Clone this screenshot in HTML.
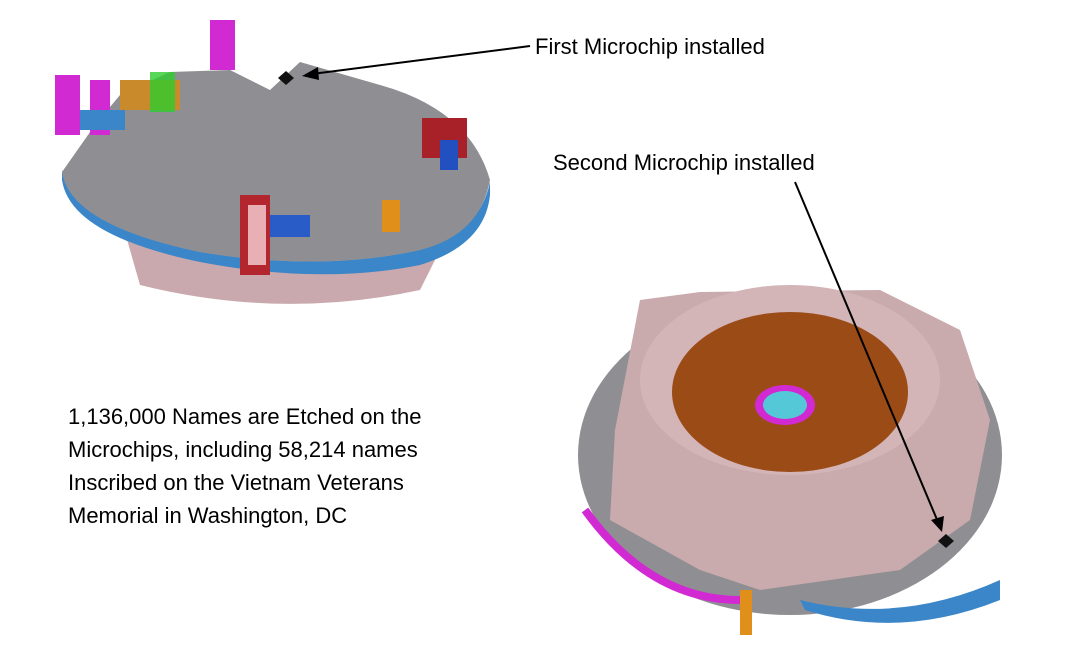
<!DOCTYPE html>
<html><head><meta charset="utf-8"><style>
body{margin:0;background:#fff;width:1072px;height:650px;overflow:hidden;font-family:"Liberation Sans",sans-serif}
svg{position:absolute;left:0;top:0}
</style></head><body>
<svg width="1072" height="650" viewBox="0 0 1072 650">
<!-- top-left disc -->
<path d="M120 215 L140 285 Q280 320 420 290 L445 240 Z" fill="#c9a9ad"/>
<path d="M62 180 Q70 235 200 262 Q320 285 420 265 Q485 245 490 195 L490 182 Q480 232 420 250 Q320 272 200 252 Q70 225 62 170 Z" fill="#3a86c8"/>
<path d="M62 172 L95 125 L120 95 L170 72 L230 70 L270 90 L300 62 L380 85 Q470 110 490 180 Q480 235 420 250 Q320 272 200 252 Q70 225 62 172 Z" fill="#8f8f93"/>
<rect x="240" y="195" width="30" height="80" fill="#b3262e"/>
<rect x="248" y="205" width="18" height="60" fill="#e8b0b4"/>
<rect x="270" y="215" width="40" height="22" fill="#2a5cc8"/>
<rect x="422" y="118" width="45" height="40" fill="#a82028"/>
<rect x="440" y="140" width="18" height="30" fill="#2350c0"/>
<rect x="382" y="200" width="18" height="32" fill="#e0901a"/>
<rect x="120" y="80" width="60" height="30" fill="#c88a2a"/>
<rect x="150" y="72" width="25" height="40" fill="#2ecc2e" opacity="0.8"/>
<rect x="55" y="75" width="25" height="60" fill="#d22ad2"/>
<rect x="90" y="80" width="20" height="55" fill="#d22ad2"/>
<rect x="210" y="20" width="25" height="50" fill="#d22ad2"/>
<rect x="80" y="110" width="45" height="20" fill="#3a86c8"/>
<polygon points="286,71 294,78 286,85 278,78" fill="#111"/>
<!-- bottom-right disc -->
<ellipse cx="790" cy="455" rx="212" ry="160" fill="#8f8f93"/>
<path d="M800 600 Q900 625 1000 580 L1000 600 Q900 640 805 610 Z" fill="#3a86c8"/>
<path d="M640 300 L700 292 L880 290 L960 330 L990 420 L970 520 L900 570 L760 590 L700 570 L610 520 L615 430 Z" fill="#c9aaad"/>
<ellipse cx="790" cy="380" rx="150" ry="95" fill="#d3b4b7"/>
<ellipse cx="790" cy="392" rx="118" ry="80" fill="#9b4b16"/>
<ellipse cx="785" cy="405" rx="30" ry="20" fill="#d22ad2"/>
<ellipse cx="785" cy="405" rx="22" ry="14" fill="#55c8d8"/>
<path d="M585 510 Q650 600 740 600" stroke="#d22ad2" stroke-width="8" fill="none"/>
<rect x="740" y="590" width="12" height="45" fill="#e0901a"/>
<polygon points="946,534 954,541 946,548 938,541" fill="#111"/>
<!-- arrows -->
<line x1="530" y1="46" x2="312" y2="74" stroke="#000" stroke-width="2"/>
<polygon points="302,76 318,67 319,80" fill="#000"/>
<line x1="795" y1="182" x2="938" y2="522" stroke="#000" stroke-width="2"/>
<polygon points="942,532 931,520 944,516" fill="#000"/>
<text x="535" y="54" font-size="22" fill="#000">First Microchip installed</text>
<text x="553" y="170" font-size="22" fill="#000">Second Microchip installed</text>
<g font-size="22" fill="#000">
<text x="68" y="424">1,136,000 Names are Etched on the</text>
<text x="68" y="457">Microchips, including 58,214 names</text>
<text x="68" y="490">Inscribed on the Vietnam Veterans</text>
<text x="68" y="523">Memorial in Washington, DC</text>
</g>
</svg>
</body></html>
